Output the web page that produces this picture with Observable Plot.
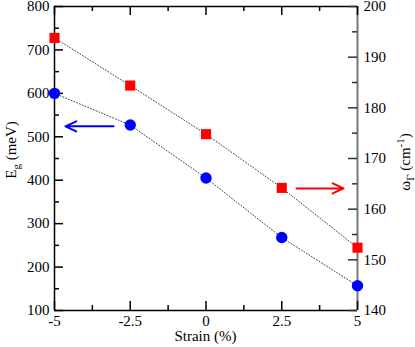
<!DOCTYPE html>
<html>
<head>
<meta charset="utf-8">
<script src="https://cdn.jsdelivr.net/npm/d3@7"></script>
<script src="https://cdn.jsdelivr.net/npm/@observablehq/plot@0.6"></script>
<style>
  html, body { margin: 0; padding: 0; background: #fff; }
  svg { display: block; }
</style>
</head>
<body>
<div id="chart"></div>
<script>
// ---- data ----
const strain = [-5, -2.5, 0, 2.5, 5];
const egValues = [600, 527, 405, 268, 157];              // E_g (meV), left axis
const omegaValues = [193.8, 184.4, 174.8, 164.2, 152.4]; // ω_Γ (cm^-1), right axis

const xMajorTicks = [-5, -2.5, 0, 2.5, 5];
const xMinorTicks = [-3.75, -1.25, 1.25, 3.75];
const leftMajorTicks = [100, 200, 300, 400, 500, 600, 700, 800];
const leftMinorTicks = [150, 250, 350, 450, 550, 650, 750];
const rightMajorTicks = [140, 150, 160, 170, 180, 190, 200];
const rightMinorTicks = [145, 155, 165, 175, 185, 195];

// annotation arrows (data units)
const blueArrowX = [-3.05, -4.64];
const blueArrowY = [524];        // left-axis units
const redArrowX = [2.99, 4.54];
const redArrowY = [164.1];       // right-axis units

// ---- layout ----
const W = 415, H = 347;
const mL = 54, mR = 58, mT = 6, mB = 37;
const frameW = W - mL - mR, frameH = H - mT - mB;
const leftDomain = [100, 800], rightDomain = [140, 200];
const toLeft = v => leftDomain[0] + (v - rightDomain[0]) * (leftDomain[1] - leftDomain[0]) / (rightDomain[1] - rightDomain[0]);
const fromLeft = v => rightDomain[0] + (v - leftDomain[0]) * (rightDomain[1] - rightDomain[0]) / (leftDomain[1] - leftDomain[0]);

const egData = strain.map((s, i) => ({x: s, y: egValues[i]}));
const omData = strain.map((s, i) => ({x: s, y: toLeft(omegaValues[i])}));

const majorLen = 9, minorLen = 5, sw = 1.5;
const FONT = "Liberation Serif";

const svg = Plot.plot({
  width: W, height: H,
  marginLeft: mL, marginRight: mR, marginTop: mT, marginBottom: mB,
  x: {domain: [-5, 5]},
  y: {domain: leftDomain},
  style: {fontFamily: FONT, fontSize: "15px", color: "#000", background: "#fff"},
  marks: [
    // dotted connecting lines
    Plot.line(egData, {x: "x", y: "y", stroke: "#444", strokeWidth: 1, strokeDasharray: "1,2"}),
    Plot.line(omData, {x: "x", y: "y", stroke: "#444", strokeWidth: 1, strokeDasharray: "1,2"}),
    // frame
    Plot.ruleY([leftDomain[0]], {stroke: "#000", strokeWidth: sw}),
    Plot.ruleY([leftDomain[1]], {stroke: "#000", strokeWidth: sw}),
    Plot.ruleX([-5], {stroke: "#000", strokeWidth: sw}),
    Plot.ruleX([5], {stroke: "#777", strokeWidth: 2}),
    // inward ticks - left
    Plot.tickY(leftMajorTicks, {y: d => d, insetRight: frameW - majorLen, strokeWidth: sw}),
    Plot.tickY(leftMinorTicks, {y: d => d, insetRight: frameW - minorLen, strokeWidth: sw}),
    // right
    Plot.tickY(rightMajorTicks.map(toLeft), {y: d => d, insetLeft: frameW - majorLen, strokeWidth: sw, stroke: "#333"}),
    Plot.tickY(rightMinorTicks.map(toLeft), {y: d => d, insetLeft: frameW - minorLen, strokeWidth: sw, stroke: "#333"}),
    // bottom
    Plot.tickX(xMajorTicks, {x: d => d, insetTop: frameH - majorLen, strokeWidth: sw}),
    Plot.tickX(xMinorTicks, {x: d => d, insetTop: frameH - minorLen, strokeWidth: sw}),
    // top
    Plot.tickX(xMajorTicks, {x: d => d, insetBottom: frameH - majorLen, strokeWidth: sw}),
    Plot.tickX(xMinorTicks, {x: d => d, insetBottom: frameH - minorLen, strokeWidth: sw}),
    // tick labels
    Plot.axisY(leftMajorTicks, {anchor: "left", tickSize: 0, tickPadding: 5, label: null, tickFormat: d => String(d)}),
    Plot.axisY(rightMajorTicks.map(toLeft), {anchor: "right", tickSize: 0, tickPadding: 6, label: null, tickFormat: d => String(Math.round(fromLeft(d)))}),
    Plot.axisX(xMajorTicks, {anchor: "bottom", tickSize: 0, tickPadding: 5, label: null, tickFormat: d => String(d)}),
    // arrows
    Plot.arrow([0], {x1: () => blueArrowX[0], x2: () => blueArrowX[1], y1: () => blueArrowY[0], y2: () => blueArrowY[0], stroke: "#0000ff", strokeWidth: 2, headLength: 9, headAngle: 50}),
    Plot.arrow([0], {x1: () => redArrowX[0], x2: () => redArrowX[1], y1: () => toLeft(redArrowY[0]), y2: () => toLeft(redArrowY[0]), stroke: "#ff0000", strokeWidth: 2, headLength: 9, headAngle: 50}),
    // markers
    Plot.dot(omData, {x: "x", y: "y", symbol: "square", r: 5.7, fill: "#ff0000", stroke: "none"}),
    Plot.dot(egData, {x: "x", y: "y", symbol: "circle", r: 5.7, fill: "#0000ff", stroke: "none"})
  ]
});

const s = d3.select(svg);
s.selectAll("text").attr("font-family", FONT);

// x title
s.append("text")
  .attr("x", mL + frameW / 2)
  .attr("y", 341)
  .attr("text-anchor", "middle")
  .attr("font-family", FONT)
  .attr("font-size", 15)
  .attr("fill", "#000")
  .text("Strain (%)");

// left title E_g (meV)
const lt = s.append("text")
  .attr("transform", "translate(16,150) rotate(-90)")
  .attr("text-anchor", "middle")
  .attr("font-family", FONT)
  .attr("font-size", 15)
  .attr("fill", "#000");
lt.append("tspan").text("E");
lt.append("tspan").attr("dy", 4).attr("font-size", 11).text("g");
lt.append("tspan").attr("dy", -4).text(" (meV)");

// right title ω_Γ (cm^-1)
const rt = s.append("text")
  .attr("transform", "translate(410,162) rotate(-90)")
  .attr("text-anchor", "middle")
  .attr("font-family", FONT)
  .attr("font-size", 15)
  .attr("fill", "#000");
rt.append("tspan").text("ω");
rt.append("tspan").attr("dy", 4).attr("font-size", 11).text("Γ");
rt.append("tspan").attr("dy", -4).text(" (cm");
rt.append("tspan").attr("dy", -6).attr("font-size", 11).text("-1");
rt.append("tspan").attr("dy", 6).text(")");

document.getElementById("chart").appendChild(svg);
</script>
</body>
</html>
